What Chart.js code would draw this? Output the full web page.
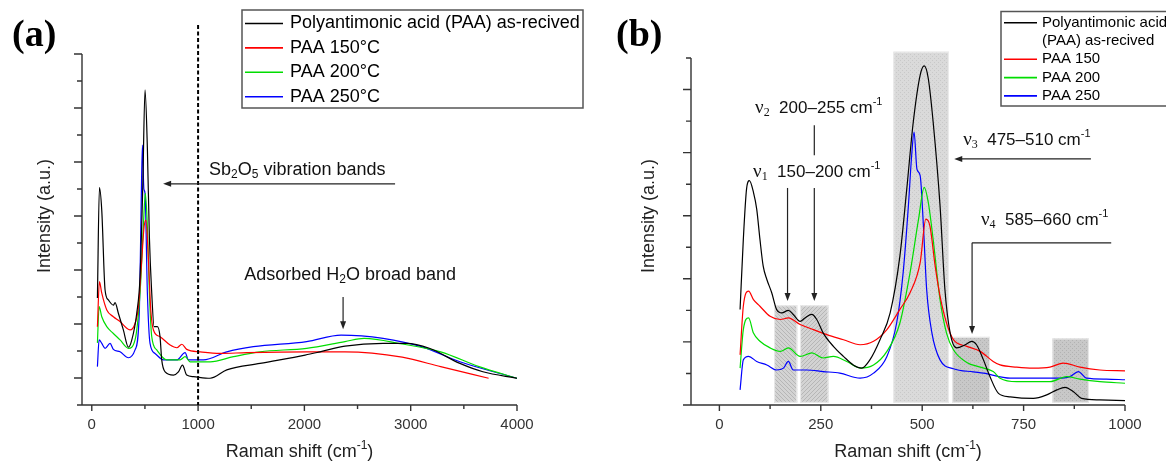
<!DOCTYPE html>
<html>
<head>
<meta charset="utf-8">
<script src="https://cdn.jsdelivr.net/npm/chart.js@4.4.1/dist/chart.umd.min.js"></script>
<style>
  html, body { margin: 0; padding: 0; background: #fff; }
  #wrap { position: relative; width: 1166px; height: 464px; overflow: hidden; background: #fff; }
  #panelA { position: absolute; left: 0; top: 0; }
  #panelB { position: absolute; left: 600px; top: 0; }
</style>
</head>
<body>
<div id="wrap">
  <canvas id="panelA" width="600" height="464"></canvas>
  <canvas id="panelB" width="566" height="464"></canvas>
</div>
<script>
// ---------- panel (a): full range spectra ----------
const namesA = ['Polyantimonic acid (PAA) as-recived', 'PAA 150°C', 'PAA 200°C', 'PAA 250°C'];
const xTicksA = [0, 500, 1000, 1500, 2000, 2500, 3000, 3500, 4000];   // labels on every 1000

const shiftRawA = [53, 72, 94, 125, 156, 203, 219, 250, 297, 345, 376, 423, 454, 479, 501, 523, 542, 564, 586, 617, 642, 658, 690, 768, 815, 853, 893, 956, 1113, 1270, 1583, 2007, 2147, 2382, 2740, 2957, 3175, 3463, 3679, 4000];
const intRawA   = [3.96, 8.05, 7.2, 4.26, 3.89, 3.7, 3.79, 3.4, 2.78, 2.14, 2.4, 3.4, 4.75, 8.0, 11.67, 9.5, 6.2, 4.15, 2.9, 2.9, 2.53, 1.67, 1.23, 1.11, 1.23, 1.48, 1.11, 1.05, 0.99, 1.3, 1.54, 1.85, 1.97, 2.18, 2.28, 2.28, 2.1, 1.54, 1.23, 0.99];

const shift150A = [53, 72, 94, 141, 203, 266, 329, 360, 407, 439, 470, 492, 510, 533, 555, 580, 642, 737, 800, 847, 893, 1019, 1207, 1458, 2021, 2382, 2920, 3282, 3733];
const int150A   = [2.9, 4.57, 4.14, 3.52, 3.27, 3.09, 2.84, 2.78, 3.02, 3.64, 5.37, 6.6, 6.85, 5.37, 3.52, 2.78, 2.53, 2.22, 2.12, 2.25, 2.06, 1.97, 1.91, 1.94, 1.97, 1.97, 1.77, 1.42, 0.99];

const shift200A = [53, 69, 94, 141, 203, 266, 345, 407, 454, 485, 504, 523, 542, 564, 611, 705, 831, 878, 925, 1113, 1333, 1583, 2021, 2382, 2562, 2920, 3282, 3643, 4000];
const int200A   = [2.3, 3.64, 3.27, 2.9, 2.65, 2.41, 2.1, 2.41, 4.15, 6.6, 7.84, 6.6, 4.15, 2.53, 2.04, 1.67, 1.67, 1.79, 1.6, 1.6, 1.79, 1.97, 2.1, 2.35, 2.47, 2.26, 1.97, 1.42, 0.99];

const shift250A = [53, 69, 94, 125, 172, 203, 266, 345, 407, 448, 463, 476, 490, 501, 523, 548, 595, 674, 799, 878, 909, 1050, 1270, 1520, 2021, 2345, 2740, 3100, 3463, 4000];
const int250A   = [1.42, 2.41, 2.28, 2.1, 2.28, 2.06, 1.97, 1.75, 2.04, 3.52, 7.0, 9.63, 8.0, 7.84, 4.15, 2.28, 1.91, 1.67, 1.67, 1.94, 1.67, 1.67, 1.97, 2.16, 2.35, 2.59, 2.47, 2.16, 1.6, 0.99];

// ---------- panel (b): 0-1000 cm-1 zoom ----------
const namesB = [['Polyantimonic acid', '(PAA) as-recived'], 'PAA 150', 'PAA 200', 'PAA 250'];
const xTicksB = [0, 125, 250, 375, 500, 625, 750, 875, 1000];          // labels on every 250

const shiftRawB = [51, 59, 67, 74, 84, 92, 100, 108, 117, 129, 141, 154, 170, 182, 199, 211, 228, 240, 256, 281, 306, 330, 351, 371, 396, 421, 445, 462, 478, 495, 505, 515, 527, 544, 556, 569, 585, 606, 622, 634, 651, 667, 688, 717, 774, 807, 832, 852, 873, 893, 938, 1000];
const intRawB   = [3.03, 5.25, 6.85, 7.11, 6.74, 6.21, 5.25, 4.4, 3.98, 3.56, 3.03, 2.92, 3.0, 2.87, 2.65, 2.76, 2.87, 2.71, 2.28, 1.86, 1.54, 1.27, 1.17, 1.43, 2.07, 2.92, 4.72, 6.85, 8.97, 10.46, 10.75, 10.35, 8.97, 6.32, 3.66, 2.28, 1.81, 1.91, 2.02, 1.91, 1.43, 0.9, 0.37, 0.26, 0.21, 0.32, 0.48, 0.56, 0.42, 0.21, 0.16, 0.14];

const shift150B = [51, 59, 72, 84, 100, 125, 150, 170, 199, 232, 265, 306, 347, 380, 413, 445, 470, 495, 509, 519, 532, 544, 560, 577, 610, 643, 675, 692, 733, 774, 815, 848, 889, 938, 1000];
const int150B   = [1.59, 3.13, 3.61, 3.34, 3.13, 2.81, 2.71, 2.76, 2.55, 2.39, 2.23, 2.07, 1.91, 2.02, 2.39, 3.03, 3.56, 4.51, 5.89, 5.68, 4.4, 3.45, 2.6, 2.07, 1.86, 1.7, 1.38, 1.27, 1.2, 1.17, 1.2, 1.33, 1.2, 1.11, 1.08];

const shift200B = [51, 59, 72, 84, 100, 125, 150, 170, 199, 228, 256, 281, 314, 347, 380, 413, 445, 470, 491, 505, 515, 527, 544, 560, 577, 610, 643, 675, 692, 733, 815, 856, 889, 938, 1000];
const int200B   = [1.17, 2.39, 2.76, 2.28, 2.02, 1.81, 1.7, 1.81, 1.54, 1.65, 1.49, 1.54, 1.38, 1.17, 1.27, 1.7, 2.6, 4.19, 5.89, 6.9, 6.42, 5.25, 3.34, 2.28, 1.75, 1.35, 1.2, 1.06, 0.85, 0.74, 0.74, 0.9, 0.82, 0.74, 0.69];

const shift250B = [51, 59, 72, 92, 117, 141, 158, 170, 182, 215, 256, 297, 347, 380, 413, 437, 453, 466, 474, 480, 487, 495, 503, 511, 524, 544, 577, 626, 651, 717, 774, 832, 864, 885, 905, 954, 1000];
const int250B   = [0.48, 1.43, 1.54, 1.38, 1.27, 1.11, 1.17, 1.38, 1.11, 1.11, 1.06, 1.01, 0.85, 1.01, 1.54, 2.6, 4.19, 6.32, 7.91, 8.65, 7.48, 7.27, 5.68, 3.66, 2.28, 1.43, 1.15, 1.05, 1.01, 0.85, 0.85, 0.85, 0.9, 1.06, 0.85, 0.82, 0.8];

// shaded vibration bands in (b), in cm-1 and intensity units
const bandStart = [135, 199, 429, 574, 821];
const bandEnd   = [192, 269, 566, 667, 911];
const bandTop   = [3.16, 3.16, 11.2, 2.16, 2.11];
const bandFill  = ['hatchL', 'hatchR', 'dotsLight', 'dotsDark', 'dotsDark'];

const colors = ['#000000', '#ff0000', '#00dd00', '#0000ff'];

const SANS = '"Liberation Sans", Arial, Helvetica, sans-serif';
const SERIF = '"Liberation Serif", "Times New Roman", serif';
const sans = s => s + 'px ' + SANS;
const serif = s => s + 'px ' + SERIF;
Chart.defaults.font.family = SANS;

function pts(xs, ys) {
    return xs.map((x, i) => ({ x: x, y: ys[i] }));
}

function lineSet(label, color, xs, ys) {
    return {
        label: label,
        data: pts(xs, ys),
        borderColor: color,
        backgroundColor: color,
        borderWidth: 1.2,
        pointRadius: 0,
        cubicInterpolationMode: 'monotone',
        fill: false
    };
}

// text with sub/superscripts, parts = [{t, f, dy}]
function rich(ctx, parts, x, y, align) {
    const widths = parts.map(p => { ctx.font = p.f; return ctx.measureText(p.t).width; });
    const total = widths.reduce((a, b) => a + b, 0);
    let cx = align === 'center' ? x - total / 2 : x;
    ctx.textAlign = 'left';
    ctx.textBaseline = 'middle';
    parts.forEach((p, i) => {
        ctx.font = p.f;
        ctx.fillText(p.t, cx, y + (p.dy || 0));
        cx += widths[i];
    });
}

function arrow(ctx, x1, y1, x2, y2) {
    const ang = Math.atan2(y2 - y1, x2 - x1);
    ctx.beginPath();
    ctx.moveTo(x1, y1);
    ctx.lineTo(x2 - 6 * Math.cos(ang), y2 - 6 * Math.sin(ang));
    ctx.stroke();
    ctx.beginPath();
    ctx.moveTo(x2, y2);
    ctx.lineTo(x2 - 8 * Math.cos(ang) + 3 * Math.sin(ang), y2 - 8 * Math.sin(ang) - 3 * Math.cos(ang));
    ctx.lineTo(x2 - 8 * Math.cos(ang) - 3 * Math.sin(ang), y2 - 8 * Math.sin(ang) + 3 * Math.cos(ang));
    ctx.closePath();
    ctx.fill();
}

function axisTitles(ctx, area, titleX) {
    ctx.save();
    ctx.fillStyle = '#222';
    rich(ctx, [
        { t: 'Raman shift (cm', f: sans(18) },
        { t: '-1', f: sans(12), dy: -6 },
        { t: ')', f: sans(18) }
    ], (area.left + area.right) / 2, 452, 'center');
    ctx.translate(titleX, 216);
    ctx.rotate(-Math.PI / 2);
    ctx.font = sans(18);
    ctx.textAlign = 'center';
    ctx.textBaseline = 'middle';
    ctx.fillText('Intensity (a.u.)', 0, 0);
    ctx.restore();
}

// outward ticks, long for major and short for minor, plus the L shaped frame
function axisTicks(isMajorX, isMajorY) {
    return {
        id: 'axisTicks',
        afterDraw(chart) {
            const { ctx, chartArea: a, scales: { x, y } } = chart;
            ctx.save();
            ctx.strokeStyle = '#333';
            ctx.lineWidth = 1.4;
            ctx.beginPath();
            y.ticks.forEach(t => {
                const py = y.getPixelForValue(t.value);
                const len = isMajorY(t.value) ? 8 : 5;
                ctx.moveTo(a.left - len, py);
                ctx.lineTo(a.left, py);
            });
            x.ticks.forEach(t => {
                const px = x.getPixelForValue(t.value);
                const len = isMajorX(t.value) ? 6 : 4;
                ctx.moveTo(px, a.bottom);
                ctx.lineTo(px, a.bottom + len);
            });
            ctx.moveTo(a.left, a.top);
            ctx.lineTo(a.left, a.bottom);
            ctx.moveTo(a.left - 4, a.bottom);
            ctx.lineTo(a.right, a.bottom);
            ctx.stroke();
            ctx.restore();
        }
    };
}

function legendBox(box) {
    return {
        id: 'legendBox',
        afterDraw(chart) {
            const ctx = chart.ctx;
            ctx.save();
            ctx.fillStyle = '#fff';
            ctx.fillRect(box.left, box.top, box.width, box.height);
            ctx.strokeStyle = '#555';
            ctx.lineWidth = 1.5;
            ctx.strokeRect(box.left, box.top, box.width, box.height);
            ctx.font = sans(box.font);
            ctx.textAlign = 'left';
            ctx.textBaseline = 'middle';
            let row = 0;
            chart.data.datasets.forEach(ds => {
                const lines = [].concat(ds.label);
                const cy = box.firstRow + row * box.rowGap;
                ctx.strokeStyle = ds.borderColor;
                ctx.lineWidth = 1.6;
                ctx.beginPath();
                ctx.moveTo(box.lineX0, cy);
                ctx.lineTo(box.lineX1, cy);
                ctx.stroke();
                ctx.fillStyle = '#000';
                lines.forEach((t, k) => ctx.fillText(t, box.textX, box.firstRow + (row + k) * box.rowGap));
                row += lines.length;
            });
            ctx.restore();
        }
    };
}

function makePattern(ctx, kind) {
    const c = document.createElement('canvas');
    c.width = 4; c.height = 4;
    const g = c.getContext('2d');
    const dark = kind === 'dotsDark';
    g.fillStyle = kind.startsWith('hatch') ? '#d3d3d3' : (dark ? '#c8c8c8' : '#dadada');
    g.fillRect(0, 0, 4, 4);
    g.fillStyle = kind.startsWith('hatch') ? '#b6b6b6' : (dark ? '#b2b2b2' : '#c8c8c8');
    if (kind === 'hatchL') {
        for (let i = 0; i < 4; i++) g.fillRect(i, i, 1, 1);
    } else if (kind === 'hatchR') {
        for (let i = 0; i < 4; i++) g.fillRect(3 - i, i, 1, 1);
    } else {
        g.fillRect(0, 0, 1, 1);
        g.fillRect(2, 2, 1, 1);
    }
    return ctx.createPattern(c, 'repeat');
}

// ---------- chart (a) ----------
const annotA = {
    id: 'annotA',
    afterDraw(chart) {
        const { ctx, chartArea, scales: { x, y } } = chart;
        ctx.save();
        // dashed marker at 1000 cm-1
        ctx.strokeStyle = '#000';
        ctx.lineWidth = 2;
        ctx.setLineDash([4, 2.5]);
        ctx.beginPath();
        ctx.moveTo(x.getPixelForValue(1000), y.getPixelForValue(14.07));
        ctx.lineTo(x.getPixelForValue(1000), y.getPixelForValue(0));
        ctx.stroke();
        ctx.setLineDash([]);

        ctx.fillStyle = '#111';
        rich(ctx, [
            { t: 'Sb', f: sans(18) },
            { t: '2', f: sans(12), dy: 5 },
            { t: 'O', f: sans(18) },
            { t: '5', f: sans(12), dy: 5 },
            { t: ' vibration bands', f: sans(18) }
        ], x.getPixelForValue(1103), y.getPixelForValue(8.7), 'left');
        rich(ctx, [
            { t: 'Adsorbed H', f: sans(18) },
            { t: '2', f: sans(12), dy: 5 },
            { t: 'O broad band', f: sans(18) }
        ], x.getPixelForValue(2430), y.getPixelForValue(4.81), 'center');

        ctx.strokeStyle = '#222';
        ctx.fillStyle = '#222';
        ctx.lineWidth = 1.2;
        arrow(ctx, x.getPixelForValue(2853), y.getPixelForValue(8.19), x.getPixelForValue(671), y.getPixelForValue(8.19));
        arrow(ctx, x.getPixelForValue(2364), y.getPixelForValue(4.0), x.getPixelForValue(2364), y.getPixelForValue(2.81));

        ctx.fillStyle = '#000';
        ctx.font = 'bold 38px ' + SERIF;
        ctx.textAlign = 'left';
        ctx.textBaseline = 'alphabetic';
        ctx.fillText('(a)', 12, 46);
        ctx.restore();
        axisTitles(ctx, chartArea, 45);
    }
};

new Chart(document.getElementById('panelA'), {
    type: 'line',
    data: {
        datasets: [
            lineSet(namesA[0], colors[0], shiftRawA, intRawA),
            lineSet(namesA[1], colors[1], shift150A, int150A),
            lineSet(namesA[2], colors[2], shift200A, int200A),
            lineSet(namesA[3], colors[3], shift250A, int250A)
        ]
    },
    options: {
        responsive: false,
        animation: false,
        events: [],
        layout: { padding: { left: 0, right: 83, top: 54, bottom: 2 } },
        scales: {
            x: {
                type: 'linear',
                min: -92,
                max: 4000,
                afterBuildTicks: s => { s.ticks = xTicksA.map(v => ({ value: v })); },
                afterFit: s => { s.height = 57; },
                border: { display: false },
                grid: { display: false, drawTicks: false },
                ticks: {
                    autoSkip: false,
                    maxRotation: 0,
                    padding: 11,
                    color: '#333',
                    font: { size: 15 },
                    callback: v => (v % 1000 === 0 ? String(v) : '')
                }
            },
            y: {
                min: 0,
                max: 13,
                afterFit: s => { s.width = 82; },
                border: { display: false },
                grid: { display: false, drawTicks: false },
                ticks: { display: false, stepSize: 1 }
            }
        },
        plugins: { legend: { display: false }, tooltip: { enabled: false } }
    },
    plugins: [
        axisTicks(v => v % 1000 === 0, v => v % 2 === 1),
        annotA,
        legendBox({ left: 242, top: 10, width: 341, height: 98, firstRow: 23.5, rowGap: 24.4,
                    lineX0: 245, lineX1: 283, textX: 290, font: 18 })
    ]
});

// ---------- chart (b) ----------
const bandsB = {
    id: 'bandsB',
    beforeDatasetsDraw(chart) {
        const { ctx, scales: { x, y } } = chart;
        ctx.save();
        bandStart.forEach((s, i) => {
            const x0 = x.getPixelForValue(s);
            const x1 = x.getPixelForValue(bandEnd[i]);
            const y0 = y.getPixelForValue(bandTop[i]);
            const y1 = y.getPixelForValue(0.07);
            ctx.fillStyle = makePattern(ctx, bandFill[i]);
            ctx.fillRect(x0, y0, x1 - x0, y1 - y0);
            ctx.strokeStyle = '#ececec';
            ctx.lineWidth = 1;
            ctx.strokeRect(x0 + 0.5, y0 + 0.5, x1 - x0 - 1, y1 - y0 - 1);
        });
        ctx.restore();
    }
};

function nuLabel(ctx, n, range, x, y) {
    rich(ctx, [
        { t: 'ν', f: serif(19) },
        { t: n, f: serif(12), dy: 5 },
        { t: '  ' + range + ' cm', f: sans(17) },
        { t: '-1', f: sans(11), dy: -6 }
    ], x, y, 'left');
}

const annotB = {
    id: 'annotB',
    afterDraw(chart) {
        const { ctx, chartArea, scales: { x, y } } = chart;
        const X = v => x.getPixelForValue(v);
        const Y = v => y.getPixelForValue(v);
        ctx.save();
        ctx.fillStyle = '#111';
        nuLabel(ctx, '2', '200–255', X(88), Y(9.41));
        nuLabel(ctx, '1', '150–200', X(83), Y(7.39));
        nuLabel(ctx, '3', '475–510', X(601), Y(8.4));
        nuLabel(ctx, '4', '585–660', X(645), Y(5.86));

        ctx.strokeStyle = '#222';
        ctx.fillStyle = '#222';
        ctx.lineWidth = 1.2;
        ctx.beginPath();
        ctx.moveTo(X(234), Y(8.87));
        ctx.lineTo(X(234), Y(7.92));
        ctx.stroke();
        arrow(ctx, X(168), Y(6.88), X(168), Y(3.3));
        arrow(ctx, X(234), Y(6.88), X(234), Y(3.3));
        arrow(ctx, X(916), Y(7.8), X(579), Y(7.8));
        ctx.beginPath();
        ctx.moveTo(X(966), Y(5.14));
        ctx.lineTo(X(623), Y(5.14));
        ctx.stroke();
        arrow(ctx, X(623), Y(5.14), X(623), Y(2.25));

        ctx.fillStyle = '#000';
        ctx.font = 'bold 38px ' + SERIF;
        ctx.textAlign = 'left';
        ctx.textBaseline = 'alphabetic';
        ctx.fillText('(b)', 16, 46);
        ctx.restore();
        axisTitles(ctx, chartArea, 49);
    }
};

new Chart(document.getElementById('panelB'), {
    type: 'line',
    data: {
        datasets: [
            lineSet(namesB[0], colors[0], shiftRawB, intRawB),
            lineSet(namesB[1], colors[1], shift150B, int150B),
            lineSet(namesB[2], colors[2], shift200B, int200B),
            lineSet(namesB[3], colors[3], shift250B, int250B)
        ]
    },
    options: {
        responsive: false,
        animation: false,
        events: [],
        layout: { padding: { left: 0, right: 41, top: 58, bottom: 2 } },
        scales: {
            x: {
                type: 'linear',
                min: -70,
                max: 1000,
                afterBuildTicks: s => { s.ticks = xTicksB.map(v => ({ value: v })); },
                afterFit: s => { s.height = 57; },
                border: { display: false },
                grid: { display: false, drawTicks: false },
                ticks: {
                    autoSkip: false,
                    maxRotation: 0,
                    padding: 11,
                    color: '#333',
                    font: { size: 15 },
                    callback: v => (v % 250 === 0 ? String(v) : '')
                }
            },
            y: {
                min: 0,
                max: 11,
                afterFit: s => { s.width = 91; },
                border: { display: false },
                grid: { display: false, drawTicks: false },
                ticks: { display: false, stepSize: 1 }
            }
        },
        plugins: { legend: { display: false }, tooltip: { enabled: false } }
    },
    plugins: [
        bandsB,
        axisTicks(v => v % 250 === 0, v => v % 2 === 0),
        annotB,
        legendBox({ left: 401, top: 11.5, width: 200, height: 94.5, firstRow: 22.7, rowGap: 18.3,
                    lineX0: 404, lineX1: 437, textX: 442, font: 15 })
    ]
});
</script>
</body>
</html>
